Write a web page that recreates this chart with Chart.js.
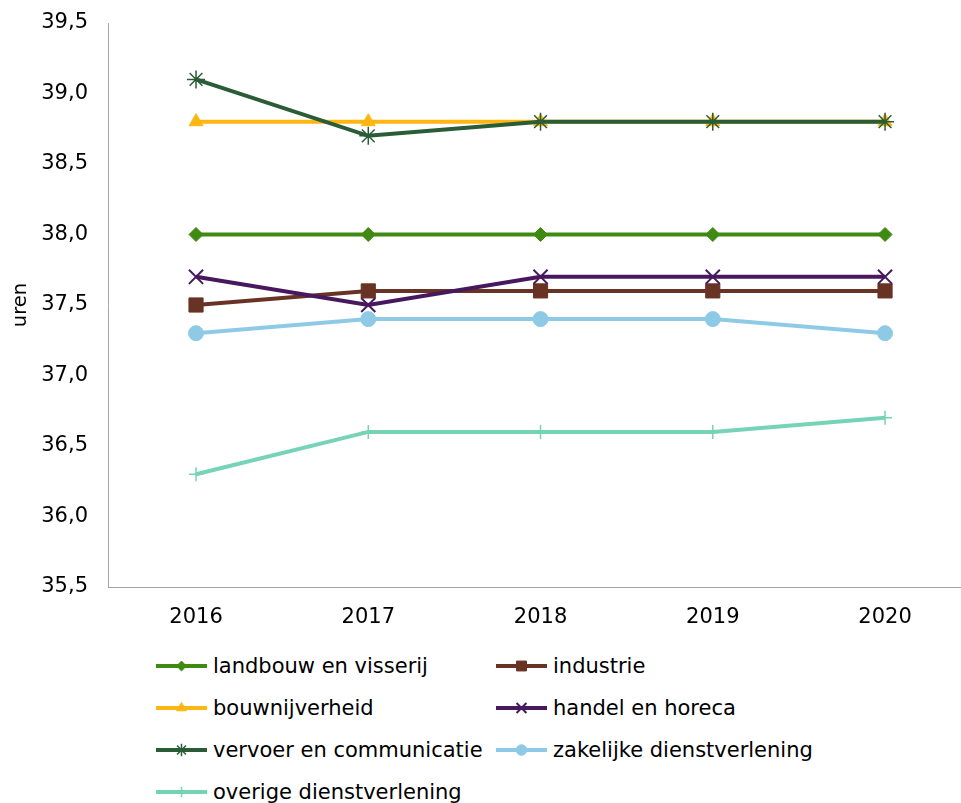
<!DOCTYPE html>
<html><head><meta charset="utf-8">
<script src="https://cdn.jsdelivr.net/npm/chart.js@4"></script>
<style>
html,body{margin:0;padding:0;background:#fff;overflow:hidden;}
#wrap{position:relative;width:961px;height:803px;font-family:"DejaVu Sans",Verdana,sans-serif;}
#chartBox{position:absolute;left:0;top:0;width:961px;height:640px;}
.leg{position:absolute;display:flex;align-items:center;height:24px;font-size:21px;color:#000;white-space:nowrap;line-height:24px;}
.leg canvas{margin-right:6px;display:block;}
</style></head>
<body><div id="wrap"><div id="chartBox"><canvas id="c" width="961" height="640"></canvas></div></div>
<script>
const years = [2016, 2017, 2018, 2019, 2020];
const landbouw  = [38.0, 38.0, 38.0, 38.0, 38.0];
const industrie = [37.5, 37.6, 37.6, 37.6, 37.6];
const bouw      = [38.8, 38.8, 38.8, 38.8, 38.8];
const handel    = [37.7, 37.5, 37.7, 37.7, 37.7];
const vervoer   = [39.1, 38.7, 38.8, 38.8, 38.8];
const zakelijke = [37.3, 37.4, 37.4, 37.4, 37.3];
const overige   = [36.3, 36.6, 36.6, 36.6, 36.7];
const yTicks = [35.5, 36.0, 36.5, 37.0, 37.5, 38.0, 38.5, 39.0, 39.5];
const seriesNames = ['landbouw en visserij','industrie','bouwnijverheid','handel en horeca','vervoer en communicatie','zakelijke dienstverlening','overige dienstverlening'];
const seriesValues = [landbouw, industrie, bouw, handel, vervoer, zakelijke, overige];

const FONT = '"DejaVu Sans", Verdana, sans-serif';
const colors = ['#3e8a12','#683324','#ffb612','#48185e','#2a5c37','#8ecae6','#76d3b5'];
const marks = [
  {pointStyle:'rectRot',  radius:7,   bw:1},
  {pointStyle:'rect',     radius:10,  bw:1},
  {pointStyle:'triangle', radius:8,   bw:1},
  {pointStyle:'crossRot', radius:10,  bw:2},
  {pointStyle:'star',     radius:9,   bw:1.5},
  {pointStyle:'circle',   radius:7.5, bw:1},
  {pointStyle:'cross',    radius:7,   bw:1.5}
];

const datasets = seriesNames.map((name, i) => ({
  label: name,
  data: years.map((yr, j) => ({x: yr, y: seriesValues[i][j]})),
  borderColor: colors[i],
  backgroundColor: colors[i],
  pointBackgroundColor: colors[i],
  pointBorderColor: colors[i],
  pointStyle: marks[i].pointStyle,
  pointRadius: marks[i].radius,
  pointBorderWidth: marks[i].bw,
  pointHoverRadius: marks[i].radius,
  borderWidth: 4,
  tension: 0,
  fill: false,
  clip: false,
  order: -i
}));

new Chart(document.getElementById('c'), {
  type: 'line',
  data: {datasets},
  options: {
    responsive: false,
    animation: false,
    devicePixelRatio: 1,
    layout: {autoPadding: false, padding: {top: 23, left: 0, right: 0, bottom: 0}},
    plugins: {legend: {display: false}, tooltip: {enabled: false}},
    scales: {
      x: {
        type: 'linear',
        min: 2015.489,
        max: 2020.441,
        afterBuildTicks: s => { s.ticks = years.map(v => ({value: v})); },
        afterFit: s => { s.height = 53; s.paddingLeft = 0; s.paddingRight = 0; },
        grid: {display: false, drawTicks: false},
        border: {display: true, color: '#a6a6a6', width: 1},
        ticks: {padding: 18, color: '#000', font: {family: FONT, size: 21}, autoSkip: false, maxRotation: 0,
          callback: v => String(v)}
      },
      y: {
        min: 35.5,
        max: 39.5,
        afterBuildTicks: s => { s.ticks = yTicks.map(v => ({value: v})); },
        afterFit: s => { s.width = 108; s.paddingTop = 0; s.paddingBottom = 0; },
        grid: {display: false, drawTicks: false},
        border: {display: true, color: '#a6a6a6', width: 1},
        ticks: {padding: 20, color: '#000', font: {family: FONT, size: 21},
          callback: v => Number(v).toFixed(1).replace('.', ',')},
        title: {display: true, text: 'uren', color: '#000', font: {family: FONT, size: 19.5}, padding: {top: 9, bottom: 0}}
      }
    }
  }
});

// HTML legend in two columns
const legendCols = [156, 496];
const legendRows = [666, 708, 750, 792];
const wrap = document.getElementById('wrap');
seriesNames.forEach((name, i) => {
  const col = i % 2, row = Math.floor(i / 2);
  const item = document.createElement('div');
  item.className = 'leg';
  item.style.left = legendCols[col] + 'px';
  item.style.top = (legendRows[row] - 12) + 'px';
  const cv = document.createElement('canvas');
  cv.width = 51; cv.height = 24;
  const ctx = cv.getContext('2d');
  ctx.strokeStyle = colors[i];
  ctx.fillStyle = colors[i];
  ctx.lineWidth = 4;
  ctx.beginPath(); ctx.moveTo(0, 12); ctx.lineTo(51, 12); ctx.stroke();
  ctx.lineWidth = marks[i].bw;
  if (Chart.helpers && Chart.helpers.drawPoint) {
    Chart.helpers.drawPoint(ctx, {pointStyle: marks[i].pointStyle, radius: marks[i].radius * 0.7, borderWidth: marks[i].bw, rotation: 0}, 25.5, 12);
  }
  const sp = document.createElement('span');
  sp.textContent = name;
  item.appendChild(cv);
  item.appendChild(sp);
  wrap.appendChild(item);
});
</script>
</body></html>
